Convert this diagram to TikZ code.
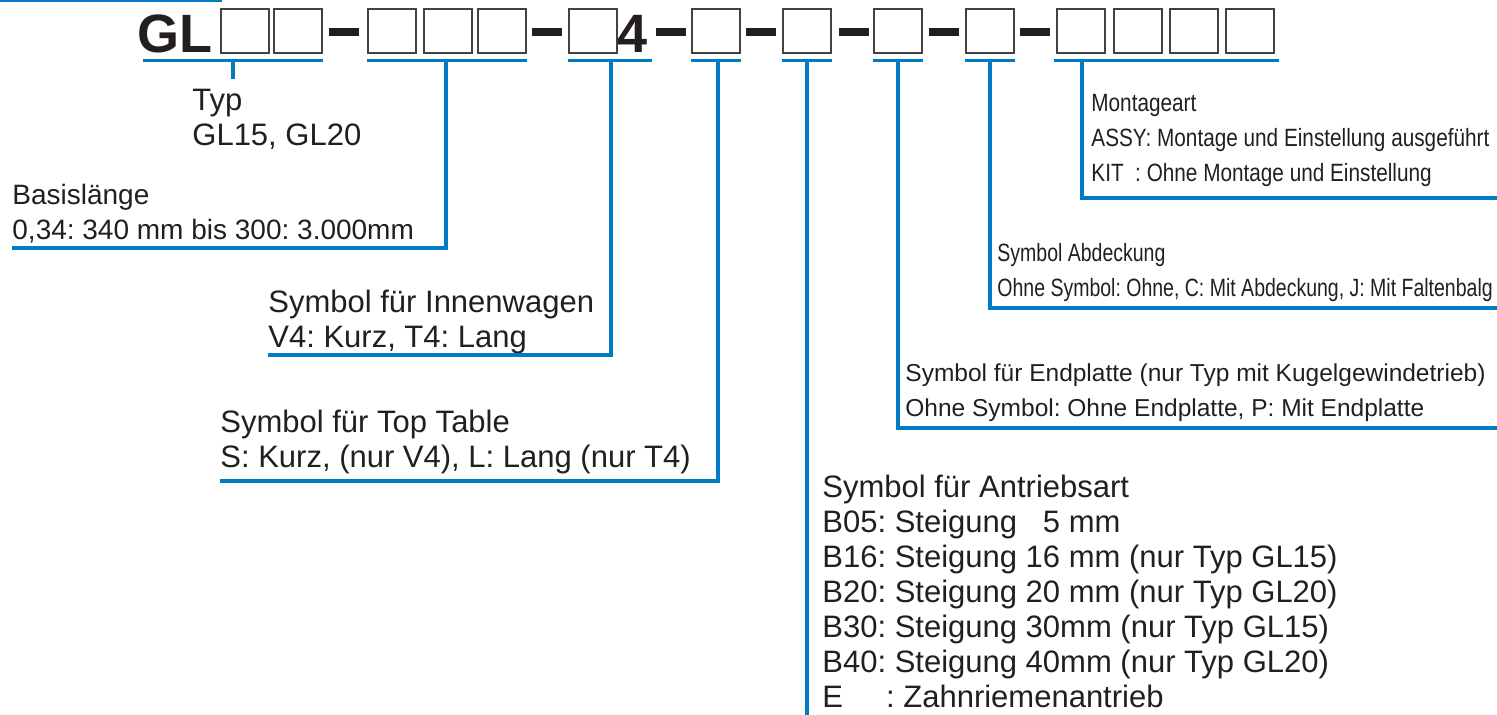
\documentclass[tikz,border=0pt]{standalone}
\usepackage{fontspec}
\setmainfont{Liberation Sans}
\newfontfamily\narrowfont[FakeStretch=0.83]{Liberation Sans}
\newfontfamily\narrowerfont[FakeStretch=0.78]{Liberation Sans}
\definecolor{leadblue}{RGB}{0,124,197}
\definecolor{ink}{RGB}{35,31,32}
\frenchspacing
\begin{document}
\begin{tikzpicture}[x=0.5pt, y=-0.5pt,
  slot/.style={draw=ink!85, line width=0.75pt, fill=white, minimum width=24pt, minimum height=22pt, inner sep=0pt},
  hyph/.style={fill=ink, minimum width=15pt, minimum height=4pt, inner sep=0pt},
  code/.style={font=\fontsize{27}{30}\selectfont\bfseries, text=ink, inner sep=0pt, anchor=base west},
  lead/.style={draw=leadblue, line width=2pt},
  ulead/.style={draw=leadblue, line width=1.5pt},
  lbl/.style={align=left, inner sep=0pt, anchor=base west, text=ink, font=\fontsize{15.5}{17.5}\selectfont},
  lblbasis/.style={lbl, font=\fontsize{14}{17.5}\selectfont},
  lblend/.style={lbl, font=\fontsize{12.25}{17.5}\selectfont},
  lblnarrow/.style={lbl, font=\narrowfont\fontsize{12.5}{17.5}\selectfont},
  lblnarrower/.style={lbl, font=\narrowerfont\fontsize{12.5}{17.5}\selectfont}]
\useasboundingbox (0,0) rectangle (1497,715);
\draw[leadblue, line width=0.8pt] (0,0.8) -- (222,0.8);
\node[code] (gl) at (137,53) {GL};
\node[slot] (s11) at (245,31) {};
\node[slot] (s12) at (298,31) {};
\node[hyph] (h1) at (344,32) {};
\node[slot] (s21) at (392,31) {};
\node[slot] (s22) at (448,31) {};
\node[slot] (s23) at (502,31) {};
\node[hyph] (h2) at (547,32) {};
\node[slot] (s31) at (593,31) {};
\node[code] (four) at (617,53) {4};
\node[hyph] (h3) at (671,32) {};
\node[slot] (s41) at (716,31) {};
\node[hyph] (h4) at (761,32) {};
\node[slot] (s51) at (807,31) {};
\node[hyph] (h5) at (854,32) {};
\node[slot] (s61) at (898,31) {};
\node[hyph] (h6) at (944,32) {};
\node[slot] (s71) at (990,31) {};
\node[hyph] (h7) at (1035,32) {};
\node[slot] (s81) at (1081,31) {};
\node[slot] (s82) at (1138,31) {};
\node[slot] (s83) at (1194,31) {};
\node[slot] (s84) at (1250,31) {};
\coordinate (t1) at (233,61);
\coordinate (t2) at (446,61);
\coordinate (t3) at (611,61);
\coordinate (t4) at (718,61);
\coordinate (t5) at (807,61);
\coordinate (t6) at (898,61);
\coordinate (t7) at (990,61);
\coordinate (t8) at (1082,61);
\draw[ulead] ([xshift=3pt]gl.west |- t1) -- (s12.east |- t1);
\draw[ulead] (s21.west |- t2) -- (s23.east |- t2);
\draw[ulead] (s31.west |- t3) -- ([xshift=2pt]four.east |- t3);
\draw[ulead] (s41.west |- t4) -- (s41.east |- t4);
\draw[ulead] (s51.west |- t5) -- (s51.east |- t5);
\draw[ulead] (s61.west |- t6) -- (s61.east |- t6);
\draw[ulead] (s71.west |- t7) -- (s71.east |- t7);
\draw[ulead] ([xshift=-1pt]s81.west |- t8) -- ([xshift=2pt]s84.east |- t8);
\node[lbl] (typ) at (192,146) {Typ\\GL15, GL20};
\node[lblbasis] (basis) at (12,240) {Basislänge\\0,34: 340 mm bis 300: 3.000mm};
\node[lbl] (innen) at (268,348) {Symbol für Innenwagen\\V4: Kurz, T4: Lang};
\node[lbl] (table) at (220,467) {Symbol für Top Table\\S: Kurz, (nur V4), L: Lang (nur T4)};
\node[lbl] (antrieb) at (822,707) {Symbol für Antriebsart\\B05: Steigung \hphantom{1}5 mm\\B16: Steigung 16 mm (nur Typ GL15)\\B20: Steigung 20 mm (nur Typ GL20)\\B30: Steigung 30mm (nur Typ GL15)\\B40: Steigung 40mm (nur Typ GL20)\\E\hphantom{00}\ : Zahnriemenantrieb};
\node[lblend] (endpl) at (905,417) {Symbol für Endplatte (nur Typ mit Kugelgewindetrieb)\\Ohne Symbol: Ohne Endplatte, P: Mit Endplatte};
\node[lblnarrower] (abdeck) at (997,297) {Symbol Abdeckung\\Ohne Symbol: Ohne, C: Mit Abdeckung, J: Mit Faltenbalg};
\node[lblnarrow] (montage) at (1091,182) {Montageart\\ASSY: Montage und Einstellung ausgeführt\\KIT\ \ : Ohne Montage und Einstellung};
\coordinate (e2) at (12,248);
\coordinate (e3) at (268,355);
\coordinate (e4) at (220,481);
\coordinate (e5) at (807,715);
\coordinate (e6) at (1497,428);
\coordinate (e7) at (1497,308);
\coordinate (e8) at (1497,198);
\draw[lead] (t1) -- ++(0,18);
\draw[lead] (t2) |- (e2);
\draw[lead] (t3) |- (e3);
\draw[lead] (t4) |- (e4);
\draw[lead] (t5) -- (e5);
\draw[lead] (t6) |- (e6);
\draw[lead] (t7) |- (e7);
\draw[lead] (t8) |- (e8);
\end{tikzpicture}
\end{document}
